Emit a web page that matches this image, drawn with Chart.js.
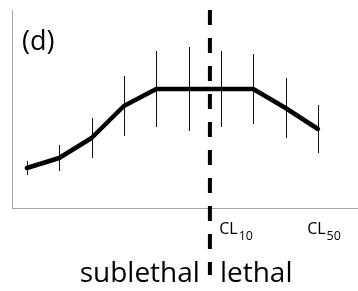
<!DOCTYPE html>
<html>
<head>
<meta charset="utf-8">
<script src="https://cdn.jsdelivr.net/npm/chart.js@4/dist/chart.umd.min.js"></script>
<style>
  html, body { margin: 0; padding: 0; background: #fff; }
  #wrap { width: 358px; height: 291px; position: relative; }
</style>
</head>
<body>
<div id="wrap"><canvas id="chart" width="358" height="291"></canvas></div>
<script>
  // concentration steps (category positions along x)
  const steps = [1, 2, 3, 4, 5, 6, 7, 8, 9, 10];
  // response (arbitrary units)
  const response = [40, 50, 70, 102, 119, 119, 119, 119, 100, 79];
  // half-length of the error bars
  const errors = [7, 13, 20, 30, 38, 42, 38, 35, 30, 24];
  // threshold between sublethal and lethal
  const threshold = 6.66;
  const markLabels = [
    { x: 7.47, main: "CL", sub: "10" },
    { x: 10.19, main: "CL", sub: "50" },
  ];

  const errorBars = {
    id: "errorBars",
    beforeDatasetsDraw(chart) {
      const { ctx, scales } = chart;
      ctx.save();
      ctx.strokeStyle = "#111";
      ctx.lineWidth = 1;
      steps.forEach((s, i) => {
        const x = Math.round(scales.x.getPixelForValue(s)) + 0.5;
        ctx.beginPath();
        ctx.moveTo(x, scales.y.getPixelForValue(response[i] + errors[i]));
        ctx.lineTo(x, scales.y.getPixelForValue(response[i] - errors[i]));
        ctx.stroke();
      });
      ctx.restore();
    },
  };

  const labels = {
    id: "labels",
    afterDraw(chart) {
      const { ctx, scales } = chart;
      ctx.save();
      ctx.fillStyle = "#000";
      ctx.textBaseline = "alphabetic";
      ctx.font = "27px 'Open Sans'";
      ctx.fillText("(d)", 22, 50);

      markLabels.forEach((m) => {
        const cx = scales.x.getPixelForValue(m.x);
        ctx.font = "16px 'Open Sans'";
        const w1 = ctx.measureText(m.main).width;
        ctx.font = "12.5px 'Open Sans'";
        const w2 = ctx.measureText(m.sub).width;
        const left = cx - (w1 + w2 + 1) / 2;
        ctx.font = "16px 'Open Sans'";
        ctx.fillText(m.main, left, 234);
        ctx.font = "12.5px 'Open Sans'";
        ctx.fillText(m.sub, left + w1 + 1, 240);
      });

      const tx = scales.x.getPixelForValue(threshold);
      ctx.font = "28px 'Open Sans'";
      ctx.textAlign = "right";
      ctx.fillText("sublethal", tx - 10, 282);
      ctx.textAlign = "left";
      ctx.fillText("lethal", tx + 10, 282);
      ctx.restore();
    },
  };

  new Chart(document.getElementById("chart"), {
    type: "line",
    data: {
      datasets: [
        {
          data: steps.map((s, i) => ({ x: s, y: response[i] })),
          borderColor: "#000",
          borderWidth: 4.5,
          borderJoinStyle: "round",
          borderCapStyle: "round",
          pointRadius: 0,
          tension: 0,
        },
        {
          data: [{ x: threshold, y: 198 }, { x: threshold, y: -67 }],
          borderColor: "#000",
          borderWidth: 4,
          borderDash: [15, 13],
          pointRadius: 0,
          clip: false,
        },
      ],
    },
    options: {
      responsive: false,
      animation: false,
      layout: { padding: { left: 12, top: 10, right: 0, bottom: 83 } },
      plugins: { legend: { display: false }, tooltip: { enabled: false } },
      scales: {
        x: {
          type: "linear",
          min: 0.54,
          max: 11.24,
          ticks: { display: false },
          grid: { display: false },
          border: { display: true, color: "#a6a6a6", width: 1 },
          afterFit(scale) { scale.height = 0; },
        },
        y: {
          min: 0,
          max: 198,
          ticks: { display: false },
          grid: { display: false },
          border: { display: true, color: "#a6a6a6", width: 1 },
          afterFit(scale) { scale.width = 0; },
        },
      },
    },
    plugins: [errorBars, labels],
  });
</script>
</body>
</html>
